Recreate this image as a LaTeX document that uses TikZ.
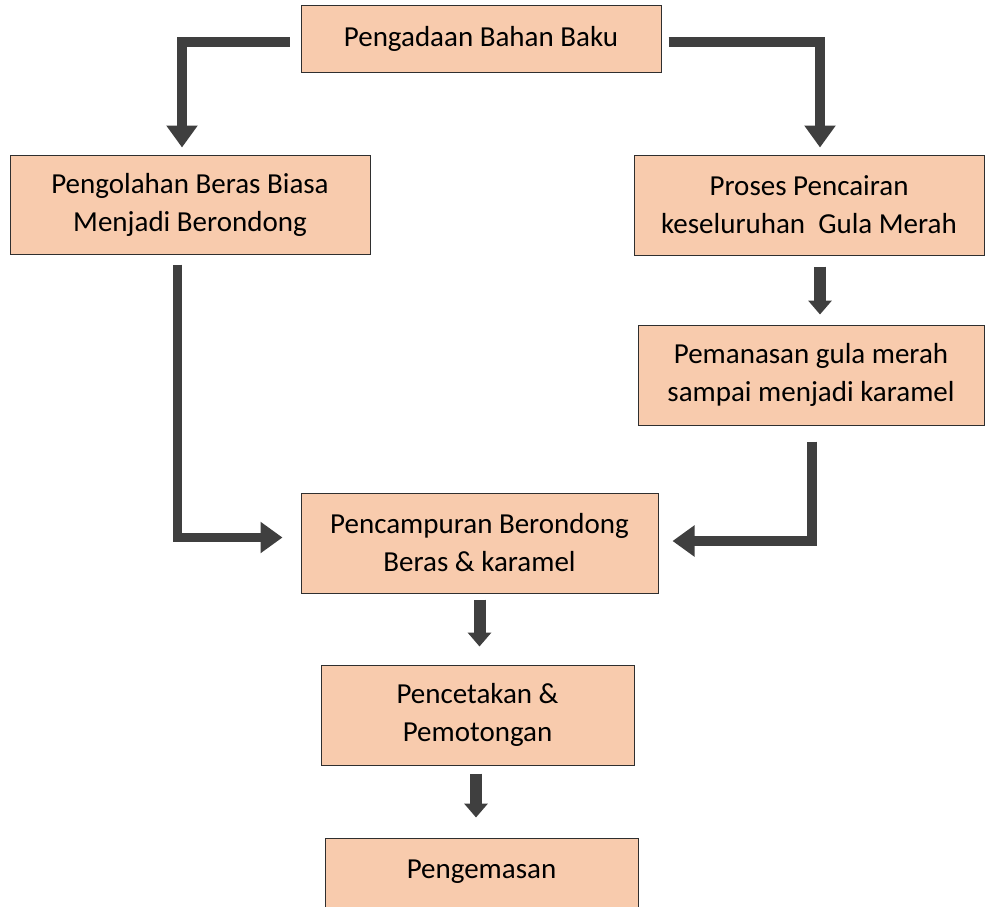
\documentclass[tikz,border=0pt]{standalone}
\usepackage{fontspec}
\setmainfont{Carlito}
\usetikzlibrary{arrows.meta}
\definecolor{boxfill}{HTML}{F8CBAD}
\definecolor{arrgray}{HTML}{3F3F3F}
\definecolor{boxline}{HTML}{2F2F2F}
\tikzset{
  procbox/.style={draw=boxline, line width=1pt, fill=boxfill, inner sep=0pt, align=center,
    font=\fontsize{29}{38}\selectfont},
  bigarr/.style={draw=arrgray, line width=9.5pt, line join=miter, line cap=butt,
    -{Triangle[width=30pt,length=22pt]}},
  smallarr/.style={draw=arrgray, line width=12pt, line cap=butt,
    -{Triangle[width=23pt,length=14pt]}},
}
\begin{document}
\begin{tikzpicture}[x=1pt,y=-1pt]
\useasboundingbox (0,0) rectangle (985,906);
\clip (0,0) rectangle (985,906);
\fill[white] (0,0) rectangle (985,906);

\node[procbox, minimum width=360pt, minimum height=67pt] (top) at (481,38.5) {Pengadaan Bahan Baku};
\node[procbox, minimum width=360pt, minimum height=99pt] (left) at (190,204.5) {Pengolahan Beras Biasa\\Menjadi Berondong};
\node[procbox, minimum width=350pt, minimum height=100pt] (proses) at (809,205) {Proses Pencairan\\keseluruhan \ Gula Merah};
\node[procbox, minimum width=346pt, minimum height=100pt] (pem) at (811,375) {Pemanasan gula merah\\sampai menjadi karamel};
\node[procbox, minimum width=357pt, minimum height=100pt] (mix) at (479.5,543) {Pencampuran Berondong\\Beras \& karamel};
\node[procbox, minimum width=313pt, minimum height=100pt] (print) at (477.5,715) {Pencetakan \&\\Pemotongan};
\node[procbox, minimum width=313pt, minimum height=100pt] (pack) at (481.5,888) {Pengemasan\\\mbox{}};

\draw[bigarr] ([xshift=-11pt,yshift=-3.5pt]top.west) -| ([xshift=-8pt,yshift=7pt]left.north);
\draw[bigarr] ([xshift=7pt,yshift=-3.5pt]top.east) -| ([xshift=11pt,yshift=7pt]proses.north);
\draw[bigarr] ([xshift=-12.5pt,yshift=-10pt]left.south) |- ([xshift=-18pt,yshift=5.5pt]mix.west);
\draw[bigarr] ([xshift=1pt,yshift=-16pt]pem.south) |- ([xshift=14pt,yshift=2pt]mix.east);

\draw[smallarr] ([xshift=11pt,yshift=-11pt]proses.south) -- ([xshift=11pt,yshift=10pt]proses.south |- pem.north);
\draw[smallarr] ([yshift=-6pt]mix.south) -- ([yshift=18pt]mix.south |- print.north);
\draw[smallarr] ([xshift=-1.5pt,yshift=-8pt]print.south) -- ([xshift=-1.5pt,yshift=20pt]print.south |- pack.north);
\end{tikzpicture}
\end{document}
